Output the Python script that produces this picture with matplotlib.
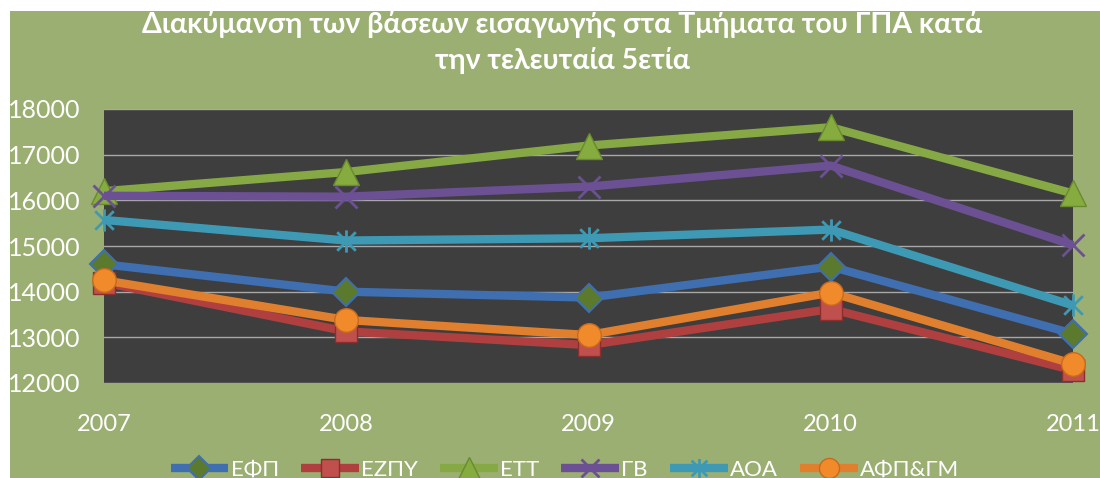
import matplotlib.pyplot as plt
from matplotlib.patches import Rectangle
from matplotlib.path import Path

# Βάσεις εισαγωγής ανά έτος
years = [2007, 2008, 2009, 2010, 2011]
efp = [14600, 14000, 13870, 14550, 13080]
ezpy = [14200, 13130, 12830, 13620, 12280]
ett = [16200, 16620, 17200, 17600, 16150]
gv = [16100, 16080, 16300, 16760, 15020]
aoa = [15570, 15120, 15170, 15360, 13700]
afp = [14250, 13380, 13050, 13980, 12420]

names = ["ΕΦΠ", "ΕΖΠΥ", "ΕΤΤ", "ΓΒ", "ΑΟΑ", "ΑΦΠ&ΓΜ"]
series = [efp, ezpy, ett, gv, aoa, afp]

bg = "#9caf72"
plot_bg = "#3e3e3e"

# αστερίσκος: Χ με κάθετη γραμμή
star = Path([(-1, -1), (1, 1), (-1, 1), (1, -1), (0, -1.2), (0, 1.2)],
            [Path.MOVETO, Path.LINETO, Path.MOVETO, Path.LINETO,
             Path.MOVETO, Path.LINETO])

styles = [
    dict(color="#3f6fb0", marker="D", ms=14, mfc="#5c7a2e", mec="#3f6fb0", mew=1.5),
    dict(color="#b0403f", marker="s", ms=16, mfc="#c0504d", mec="#8a2f2d", mew=1),
    dict(color="#86a845", marker="^", ms=19, mfc="#86ab3f", mec="#6a8a30", mew=1),
    dict(color="#6c5094", marker="x", ms=16, mfc="none", mec="#6c5094", mew=2),
    dict(color="#3e9ab4", marker=star, ms=16, mfc="none", mec="#3e9ab4", mew=2),
    dict(color="#e0802f", marker="o", ms=17, mfc="#f08a2a", mec="#c86a1c", mew=1),
]

plt.rcParams['font.family'] = ['Lato', 'DejaVu Sans']

fig = plt.figure(figsize=(11, 4.78), dpi=100, facecolor="white")
fig.patches.append(Rectangle((10 / 1100, 0), 1, 1 - 11 / 478,
                             transform=fig.transFigure, facecolor=bg,
                             edgecolor="none", zorder=-10))

ax = fig.add_axes([104 / 1100, 1 - 383 / 478, (1073 - 104) / 1100, (383 - 109) / 478])
ax.set_facecolor(plot_bg)

for name, vals, st in zip(names, series, styles):
    ax.plot(years, vals, label=name, lw=6, solid_capstyle="butt", clip_on=False, **st)

ax.set_xlim(2007, 2011)
ax.set_ylim(12000, 18000)
ax.set_xticks(years)
ax.set_yticks(range(12000, 18001, 1000))
ax.grid(axis="y", color="#a8a8a8", lw=1)
ax.set_axisbelow(True)
for s in ax.spines.values():
    s.set_visible(False)
ax.tick_params(length=0, colors="white")
ax.tick_params(axis="y", pad=17, labelsize=18)
ax.tick_params(axis="x", pad=22, labelsize=17)

fig.text(0.511, 1 - 25 / 478, "Διακύμανση των βάσεων εισαγωγής στα Τμήματα του ΓΠΑ κατά",
         ha="center", va="center", color="white", fontsize=20.5, fontweight="bold")
fig.text(0.511, 1 - 61 / 478, "την τελευταία 5ετία",
         ha="center", va="center", color="white", fontsize=20.5, fontweight="bold")

leg = fig.legend(loc="center", bbox_to_anchor=(565 / 1100, 1 - 470 / 478), ncol=6,
                 frameon=False, fontsize=16, handlelength=2.6, handletextpad=0.1,
                 columnspacing=1.0, markerscale=0.85, labelcolor="white")

fig.savefig("out.png", dpi=100, facecolor=fig.get_facecolor())
